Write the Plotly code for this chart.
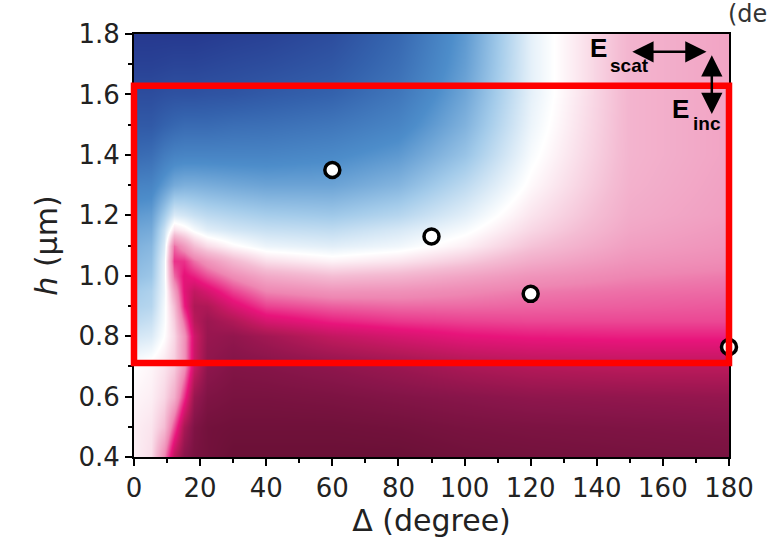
import plotly.graph_objects as go

# ---- data ----
delta_deg = [0, 5, 9, 12, 15, 18, 22, 30, 40, 60, 80, 100, 120, 150, 180]
h_um = [0.4, 0.5, 0.6, 0.7, 0.8, 0.85, 0.9, 0.95, 1.0, 1.05, 1.1, 1.15, 1.2, 1.3, 1.4, 1.5, 1.6, 1.7, 1.8]
field = [
    [0.05, 0.10, 0.40, 0.75, 0.90, 0.95, 0.97, 1.00, 1.00, 1.00, 1.00, 0.98, 0.97, 0.96, 0.95],
    [0.05, 0.08, 0.20, 0.50, 0.80, 0.93, 0.97, 0.98, 0.98, 0.98, 0.97, 0.95, 0.94, 0.93, 0.92],
    [0.03, 0.05, 0.12, 0.25, 0.55, 0.85, 0.93, 0.95, 0.95, 0.94, 0.92, 0.90, 0.88, 0.87, 0.86],
    [0.00, 0.03, 0.08, 0.15, 0.35, 0.70, 0.88, 0.92, 0.91, 0.88, 0.84, 0.79, 0.76, 0.74, 0.74],
    [-0.12, -0.10, 0.00, 0.12, 0.35, 0.68, 0.85, 0.87, 0.82, 0.72, 0.66, 0.61, 0.59, 0.58, 0.58],
    [-0.18, -0.15, -0.02, 0.15, 0.45, 0.75, 0.84, 0.78, 0.66, 0.58, 0.54, 0.52, 0.51, 0.51, 0.51],
    [-0.22, -0.20, -0.03, 0.20, 0.58, 0.78, 0.78, 0.65, 0.52, 0.47, 0.45, 0.45, 0.46, 0.47, 0.48],
    [-0.25, -0.22, -0.05, 0.30, 0.62, 0.72, 0.66, 0.52, 0.40, 0.35, 0.36, 0.39, 0.42, 0.44, 0.45],
    [-0.30, -0.27, -0.05, 0.45, 0.62, 0.58, 0.50, 0.38, 0.27, 0.20, 0.23, 0.29, 0.35, 0.40, 0.42],
    [-0.33, -0.30, -0.06, 0.55, 0.55, 0.44, 0.35, 0.22, 0.10, 0.04, 0.08, 0.16, 0.26, 0.35, 0.38],
    [-0.36, -0.33, -0.10, 0.45, 0.33, 0.20, 0.11, 0.02, -0.05, -0.08, -0.04, 0.05, 0.18, 0.31, 0.35],
    [-0.40, -0.38, -0.15, 0.10, 0.05, -0.02, -0.08, -0.12, -0.15, -0.17, -0.11, -0.02, 0.12, 0.28, 0.33],
    [-0.45, -0.43, -0.25, -0.10, -0.12, -0.15, -0.18, -0.21, -0.24, -0.26, -0.20, -0.08, 0.08, 0.26, 0.31],
    [-0.56, -0.55, -0.45, -0.38, -0.36, -0.36, -0.37, -0.39, -0.41, -0.41, -0.34, -0.18, 0.02, 0.24, 0.30],
    [-0.70, -0.68, -0.60, -0.56, -0.55, -0.55, -0.55, -0.55, -0.55, -0.52, -0.45, -0.28, -0.02, 0.23, 0.29],
    [-0.80, -0.80, -0.75, -0.72, -0.70, -0.70, -0.70, -0.68, -0.67, -0.63, -0.55, -0.35, -0.05, 0.23, 0.29],
    [-0.88, -0.88, -0.86, -0.85, -0.85, -0.85, -0.84, -0.83, -0.80, -0.75, -0.63, -0.40, -0.07, 0.23, 0.29],
    [-0.95, -0.95, -0.94, -0.93, -0.93, -0.93, -0.92, -0.90, -0.88, -0.82, -0.68, -0.43, -0.07, 0.23, 0.29],
    [-1.00, -1.00, -1.00, -1.00, -1.00, -1.00, -0.99, -0.97, -0.95, -0.88, -0.72, -0.45, -0.07, 0.23, 0.29],
]

point_delta = [60, 90, 120, 180]
point_h = [1.35, 1.13, 0.94, 0.764]

x_range = [0, 180]
y_range = [0.4, 1.8]
box_x = [0, 180]
box_h = [0.711, 1.629]

colorscale = [
    [0.0, "#26398f"], [0.125, "#3462ad"], [0.25, "#4d8dca"], [0.375, "#a3cbea"],
    [0.5, "#ffffff"], [0.6, "#f4bcd3"], [0.7, "#ee86b2"], [0.8, "#e8147b"],
    [0.875, "#b8195a"], [0.95, "#88154a"], [1.0, "#6a1036"],
]

fig = go.Figure()
fig.add_trace(go.Heatmap(
    x=delta_deg, y=h_um, z=field, zmin=-1, zmax=1, colorscale=colorscale,
    zsmooth="best", showscale=False, hoverinfo="skip",
))
fig.add_trace(go.Scatter(
    x=point_delta, y=point_h, mode="markers", cliponaxis=False,
    marker=dict(size=15, color="white", line=dict(color="black", width=3.5)),
    showlegend=False,
))

def px(v):
    return (v - x_range[0]) / (x_range[1] - x_range[0])

def py(v):
    return (v - y_range[0]) / (y_range[1] - y_range[0])

fig.add_shape(type="rect", xref="paper", yref="paper",
              x0=px(box_x[0]), x1=px(box_x[1]), y0=py(box_h[0]), y1=py(box_h[1]),
              line=dict(color="#ff0000", width=6.5), layer="above")

# polarization arrows
arrow_style = dict(xref="x", yref="y", axref="x", ayref="y", text="", showarrow=True,
                   arrowhead=2, startarrowhead=2, arrowside="end+start",
                   arrowsize=1.7, startarrowsize=1.7, arrowwidth=2.5, arrowcolor="black")
fig.add_annotation(x=173.2, y=1.741, ax=150.3, ay=1.741, **arrow_style)
fig.add_annotation(x=174.8, y=1.535, ax=174.8, ay=1.735, **arrow_style)

big_e = dict(family="Liberation Sans, Arial", size=26, color="black", weight="bold")
small_e = dict(family="Liberation Sans, Arial", size=19, color="black", weight="bold")
fig.add_annotation(x=140.4, y=1.754, xref="x", yref="y", showarrow=False, text="E", font=big_e)
fig.add_annotation(x=150.0, y=1.697, xref="x", yref="y", showarrow=False, text="scat", font=small_e)
fig.add_annotation(x=165.2, y=1.552, xref="x", yref="y", showarrow=False, text="E", font=big_e)
fig.add_annotation(x=173.3, y=1.505, xref="x", yref="y", showarrow=False, text="inc", font=small_e)
fig.add_annotation(xref="paper", yref="paper", x=(726 - 134) / 595, y=1 + (34 - 14) / 423,
                   showarrow=False, text="(de", xanchor="left", yanchor="middle",
                   font=dict(family="DejaVu Sans", size=24, color="#333"))

axis_font = dict(family="DejaVu Sans, Arial", size=26, color="#222")
title_font = dict(family="DejaVu Sans, Arial", size=30, color="#222")
fig.update_xaxes(range=x_range, tickmode="linear", tick0=0, dtick=20,
                 ticks="outside", ticklen=7, tickwidth=2, tickcolor="black",
                 minor=dict(dtick=10, ticks="outside", ticklen=4, tickwidth=2, tickcolor="black"),
                 showline=True, linecolor="black", linewidth=2, mirror=True,
                 showgrid=False, zeroline=False, tickfont=axis_font,
                 title=dict(text="Δ (degree)", font=title_font, standoff=4))
fig.update_yaxes(range=y_range, tickmode="linear", tick0=0.4, dtick=0.2, tickformat=".1f",
                 ticks="outside", ticklen=7, tickwidth=2, tickcolor="black",
                 minor=dict(dtick=0.1, ticks="outside", ticklen=4, tickwidth=2, tickcolor="black"),
                 showline=True, linecolor="black", linewidth=2, mirror=True,
                 showgrid=False, zeroline=False, tickfont=axis_font,
                 title=dict(text="<i>h</i> (μm)", font=title_font, standoff=12))

fig.update_layout(width=777, height=539, margin=dict(l=134, r=48, t=34, b=82),
                  paper_bgcolor="white", plot_bgcolor="white", showlegend=False)

fig.write_html("out.html")
